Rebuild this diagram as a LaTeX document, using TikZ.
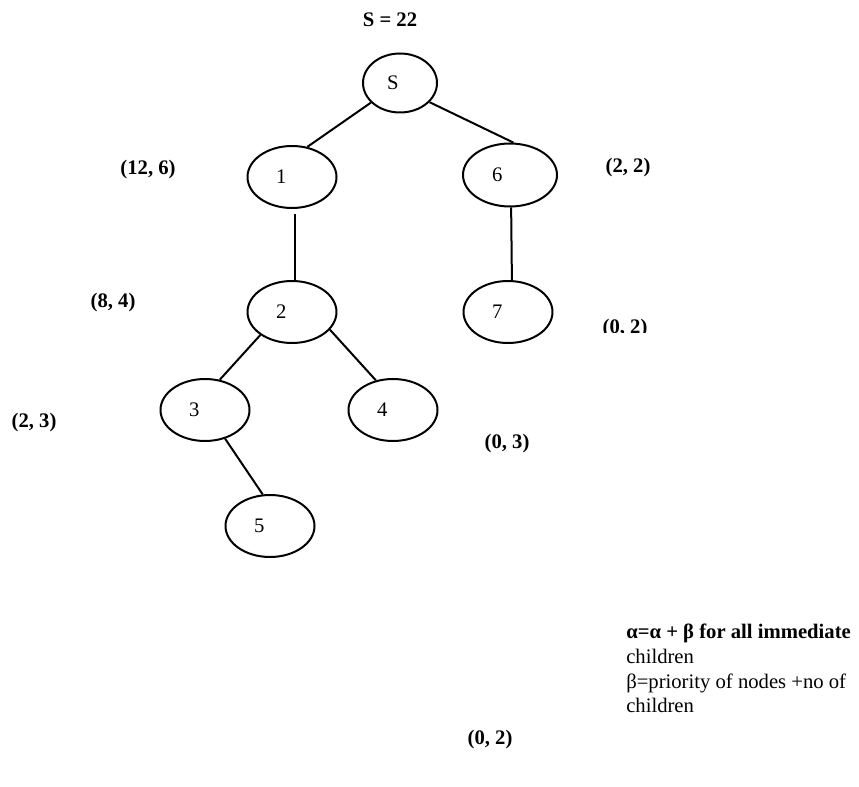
\documentclass[tikz,border=0pt]{standalone}
\usepackage{fontspec}
\setmainfont{Liberation Serif}
\usetikzlibrary{shapes.geometric}

\begin{document}
\begin{tikzpicture}[x=0.75pt, y=-0.75pt,
  every node/.style={font=\fontsize{15.5}{18.5}\selectfont},
  vertex/.style={draw, line width=1.5pt, ellipse, minimum width=66.75pt,
    minimum height=46.5pt, inner xsep=0pt, text width=24pt, align=left},
  score/.style={font=\fontsize{15.5}{18.5}\selectfont\bfseries},
  edge/.style={line width=1.5pt}]

\useasboundingbox (0,0) rectangle (859,787);

% Tree
\node[vertex, minimum width=55.5pt, minimum height=44.25pt, text width=19.5pt] (s) at (400,83) {S};
\node[vertex] (n1) at (292,177) {1};
\node[vertex, minimum width=70.5pt, minimum height=47.25pt, text width=27pt] (n6) at (510,175) {6};
\node[vertex] (n2) at (292,312) {2};
\node[vertex] (n7) at (508,312) {7};
\node[vertex] (n3) at (205,410) {3};
\node[vertex] (n4) at (393,410) {4};
\node[vertex] (n5) at (270,526) {5};

\draw[edge] (s.214) -- (n1.63);
\draw[edge] (s.327) -- (n6.84);
\draw[edge, shorten <=3.5pt] (n1.276) -- (n2.84);
\draw[edge] (n6.272) -- (n7.83);
\draw[edge] (n2.216) -- (n3.64);
\draw[edge] (n2.335) -- (n4.120);
\draw[edge] (n3.305) -- (n5.103);

% (alpha, beta) pairs
\node[score] (total) at (390,20) {S = 22};
\node[score] (w1) at (148,170) {(12, 6)};
\node[score] (w6) at (628,168) {(2, 2)};
\node[score] (w2) at (113,303) {(8, 4)};
\begin{scope}
  \clip (560,300) rectangle (700,333);
  \node[score] (w7) at (625,329) {(0, 2)};
\end{scope}
\node[score] (w3) at (34,423) {(2, 3)};
\node[score] (w4) at (507,444) {(0, 3)};
\node[score] (w5) at (490,740) {(0, 2)};

% Rule
\node[anchor=north west, inner sep=0pt, align=left] (rule) at (626,624)
  {\textbf{α=α + β for all immediate}\\children\\β=priority of nodes +no of\\children};

\end{tikzpicture}
\end{document}
